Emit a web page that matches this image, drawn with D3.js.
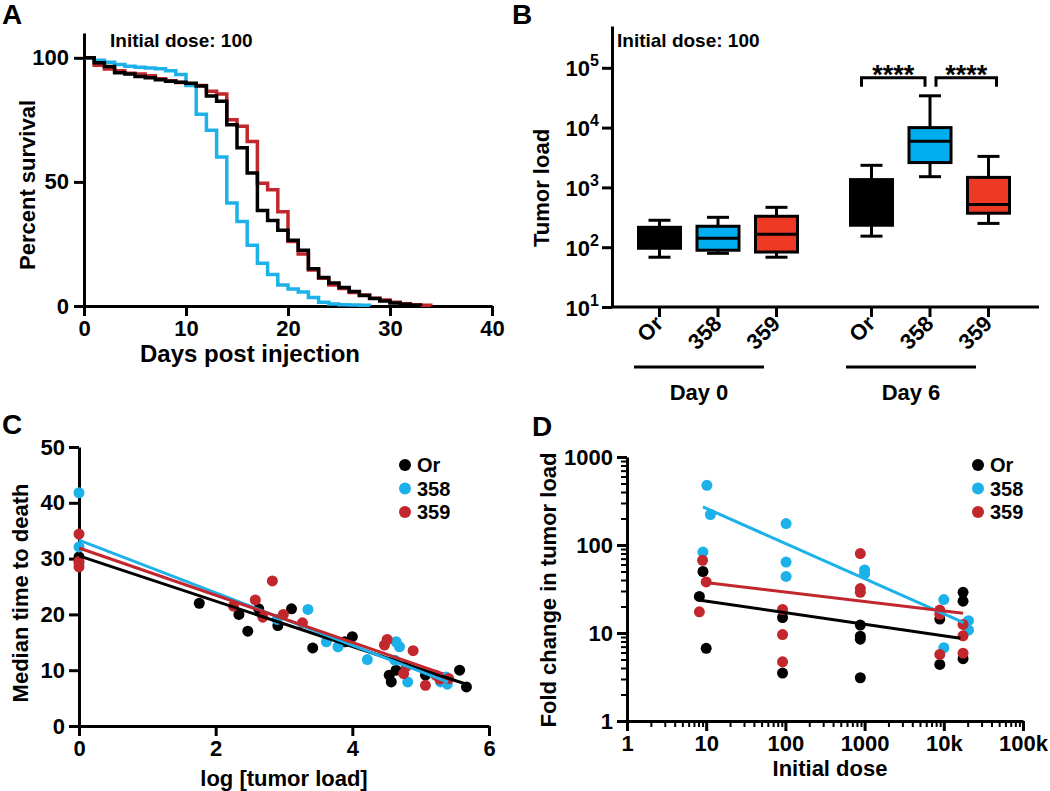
<!DOCTYPE html>
<html><head><meta charset="utf-8">
<script src="https://cdn.jsdelivr.net/npm/d3@7"></script>
<style>
body{margin:0;background:#fff}
svg{display:block;font-family:"Liberation Sans",Arial,Helvetica,sans-serif;font-weight:bold}
</style></head><body>
<svg id="fig" width="1050" height="791"></svg>
<script>
// ---------------- DATA ----------------
const strains = ["Or", "358", "359"];
const lineColors = { "Or": "#000000", "358": "#1db1ea", "359": "#c1272d" };
const boxColors = { "Or": "#000000", "358": "#00aeef", "359": "#ee3a24" };

// Panel A: percent survival at each day (index = day)
const survOr  = [100,98,96.5,94,93.5,92.5,92,91.2,90.6,90.2,89.8,88.6,84.6,82.5,73,63.8,53.6,38.5,34.5,30.5,26.5,22.5,15,11.5,9.3,7.5,5.8,4.2,3.0,2.0,1.2,0.7,0.3,0];
const surv358 = [100,99,98.2,97.3,96.6,96.2,95.9,95.6,94.8,93.3,88.8,77.3,70.8,60,41.5,34,24.5,17.2,12.7,8.5,6.8,5.6,3.4,1.5,0.8,0.5,0.4,0.3,0];
const surv359 = [100,97,95.5,94.8,93.8,93.5,92.8,91.6,90.8,90.1,89.4,88.8,86.5,85.4,75,72.4,66.3,49.5,46.8,38,26,21,14.5,11.2,8.5,7.1,5.4,4.4,3.1,2.4,1.5,0.9,0.5,0.3,0];
const survTicksX = [0, 10, 20, 30, 40];
const survTicksY = [0, 50, 100];

// Panel B: box plots [min, q1, median, q3, max]
const boxGroups = ["Day 0", "Day 6"];
const boxDay0 = { "Or": [68, 96, 150, 215, 282], "358": [79, 89, 141, 224, 316], "359": [68, 83, 165, 329, 464] };
const boxDay6 = { "Or": [153, 233, 600, 1350, 2340], "358": [1510, 2600, 5900, 10000, 34000], "359": [250, 370, 520, 1470, 3300] };
const boxTicksY = [10, 100, 1000, 10000, 100000];
const sigBrackets = [["Or", "358", "****"], ["358", "359", "****"]];
const sigLevel = 68000;

// Panel C: [log tumor load, median time to death]
const cOr  = [[0,30.3],[1.76,22],[2.34,20],[2.47,17],[2.63,21],[2.91,18],[3.11,21],[3.42,14],[3.89,15.1],[4.0,16],[4.54,9.1],[4.57,7.9],[4.64,10],[5.07,9.1],[5.57,10],[5.67,7]];
const c358 = [[0,41.8],[0,32.1],[0,29.2],[2.9,19.1],[3.35,20.9],[3.62,15.1],[3.79,14.2],[4.22,11.9],[4.64,15.1],[4.69,14.2],[4.62,11.8],[4.81,7.9],[5.29,7.9],[5.39,7.5],[5.37,8.8]];
const c359 = [[0,34.4],[0,29.5],[0,28.5],[2.26,21.5],[2.58,22.6],[2.69,19.5],[2.83,26],[2.99,20],[3.27,18.5],[4.47,14.5],[4.51,15.5],[4.75,9.4],[4.79,10.7],[4.89,13.5],[5.07,7.3],[5.22,9.1],[5.28,8.4],[5.41,8.5]];
// linear fits: [intercept, slope, xmax]
const fitC = { "Or": [30.5, -4.06, 5.68], "358": [33.3, -4.71, 5.4], "359": [31.9, -4.23, 5.33] };
const cTicksX = [0, 2, 4, 6];
const cTicksY = [0, 10, 20, 30, 40, 50];

// Panel D: [initial dose, fold change]
const dOr  = [[8.2,26],[9.1,50],[10,6.7],[92,15],[92,3.5],[883,12.3],[883,9.2],[883,8.5],[883,3.1],[8900,14.4],[8900,4.4],[17500,29],[17500,23],[17500,5.1]];
const d358 = [[10.2,477],[11.3,222],[9.1,83],[102,175],[102,64],[102,44],[1000,52],[1000,47],[10000,24],[10000,6.8],[20500,13.8],[20500,10.8]];
const d359 = [[9,67],[8.2,17.4],[10,38],[92,18.5],[92,9.6],[92,4.7],[883,80],[883,32],[883,29],[8900,18.2],[8900,16.3],[8900,5.7],[17500,12.5],[17500,9.3],[17500,5.9]];
// log-log fits: [a, b, xmin, xmax] with log10(y) = a + b*log10(x)
const fitD = { "Or": [1.495, -0.132, 8.4, 16200], "358": [2.817, -0.40, 9.1, 17800], "359": [1.682, -0.108, 8.7, 17500] };
const dTicksX = [1, 10, 100, 1000, 10000, 100000];
const dTickLabelsX = ["1", "10", "100", "1000", "10k", "100k"];
const dTicksY = [1, 10, 100, 1000];

// ---------------- DRAW ----------------
const svg = d3.select("#fig");
const TICK = 22, TITLE = 22;

function styleAxis(g, fs) {
  g.select(".domain").attr("stroke", "#000").attr("stroke-width", 3);
  g.selectAll(".tick line").attr("stroke", "#000").attr("stroke-width", 3);
  g.selectAll(".tick text").attr("font-size", fs || TICK).attr("font-weight", "bold").attr("fill", "#000")
    .attr("font-family", '"Liberation Sans", Arial, sans-serif');
}
function label(x, y, txt, size, anchor, rot) {
  const t = svg.append("text").attr("x", x).attr("y", y).attr("font-size", size)
    .attr("text-anchor", anchor || "middle").attr("fill", "#000").text(txt);
  if (rot) t.attr("transform", `rotate(${rot},${x},${y})`);
  return t;
}

// ===== Panel A =====
{
  const x = d3.scaleLinear().domain([0, 40]).range([84, 492]);
  const y = d3.scaleLinear().domain([0, 110]).range([306, 33]);
  svg.append("g").attr("transform", `translate(0,${y(0)})`)
    .call(d3.axisBottom(x).tickValues(survTicksX).tickSize(10).tickSizeOuter(0).tickPadding(4))
    .call(styleAxis);
  svg.append("g").attr("transform", `translate(${x(0)},0)`)
    .call(d3.axisLeft(y).tickValues(survTicksY).tickSize(10).tickSizeOuter(0).tickPadding(5))
    .call(styleAxis);
  const line = d3.line().x((d, i) => x(i)).y(d => y(d)).curve(d3.curveStepAfter);
  [["359", surv359], ["358", surv358], ["Or", survOr]].forEach(([k, arr]) => {
    svg.append("path").datum(arr).attr("d", line).attr("fill", "none")
      .attr("stroke", lineColors[k]).attr("stroke-width", 3.5);
  });
  label(110, 47, "Initial dose: 100", 19, "start");
  label(250, 362, "Days post injection", 24);
  label(35, 185, "Percent survival", TITLE, "middle", -90);
  label(2, 24, "A", 28, "start");
}

// ===== Panel B =====
{
  const x0 = 612;
  const y = d3.scaleLog().domain([10, 5e5]).range([307, 26]);
  const gx = d3.scalePoint().domain(boxGroups).range([718, 930]);
  const ix = d3.scalePoint().domain(strains).range([-58.5, 58.5]);
  const cx = (g, s) => gx(g) + ix(s);
  const yAx = svg.append("g").attr("transform", `translate(${x0},0)`)
    .call(d3.axisLeft(y).tickValues(boxTicksY).tickFormat(() => "").tickSize(10).tickSizeOuter(0))
    .call(styleAxis);
  yAx.selectAll(".tick").each(function (d) {
    const t = d3.select(this).append("text").attr("x", -13).attr("y", 8).attr("text-anchor", "end")
      .attr("font-size", TICK).attr("fill", "#000");
    t.append("tspan").text("10");
    t.append("tspan").attr("dy", -10).attr("font-size", 16).text(Math.round(Math.log10(d)));
  });
  // x axis
  svg.append("line").attr("x1", x0).attr("x2", 1039).attr("y1", y(10)).attr("y2", y(10))
    .attr("stroke", "#000").attr("stroke-width", 3);
  const dataByGroup = { "Day 0": boxDay0, "Day 6": boxDay6 };
  boxGroups.forEach(g => {
    strains.forEach(s => {
      const c = cx(g, s);
      svg.append("line").attr("x1", c).attr("x2", c).attr("y1", y(10)).attr("y2", y(10) + 10)
        .attr("stroke", "#000").attr("stroke-width", 3);
      label(c + 5, y(10) + 18, s, TICK, "end", -45);
      const [mn, q1, md, q3, mx] = dataByGroup[g][s];
      const bg = svg.append("g");
      bg.append("line").attr("x1", c).attr("x2", c).attr("y1", y(mx)).attr("y2", y(mn)).attr("stroke", "#000").attr("stroke-width", 3);
      [mn, mx].forEach(v => bg.append("line").attr("x1", c - 11).attr("x2", c + 11).attr("y1", y(v)).attr("y2", y(v))
        .attr("stroke", "#000").attr("stroke-width", 3));
      bg.append("rect").attr("x", c - 21).attr("width", 42).attr("y", y(q3)).attr("height", y(q1) - y(q3))
        .attr("fill", boxColors[s]).attr("stroke", "#000").attr("stroke-width", 3);
      bg.append("line").attr("x1", c - 21).attr("x2", c + 21).attr("y1", y(md)).attr("y2", y(md))
        .attr("stroke", "#000").attr("stroke-width", 3);
    });
    const l = gx(g) - 84, r = gx(g) + 46;
    svg.append("line").attr("x1", l).attr("x2", r).attr("y1", 367).attr("y2", 367).attr("stroke", "#000").attr("stroke-width", 3);
    label((l + r) / 2, 400, g, TITLE);
  });
  sigBrackets.forEach(([a, b, txt]) => {
    const xa = cx("Day 6", a) + (a === "358" ? 6 : -10);
    const xb = cx("Day 6", b) + (b === "358" ? -5 : 8);
    const yl = y(sigLevel);
    svg.append("path").attr("d", `M${xa},${yl + 9}V${yl}H${xb}V${yl + 9}`)
      .attr("fill", "none").attr("stroke", "#000").attr("stroke-width", 3);
    label((xa + xb) / 2, yl + 6, txt, 27);
  });
  label(617, 47, "Initial dose: 100", 19, "start");
  label(549, 188, "Tumor load", TITLE, "middle", -90);
  label(512, 24, "B", 28, "start");
}

// ===== Panel C =====
{
  const x = d3.scaleLinear().domain([0, 6]).range([79, 489]);
  const y = d3.scaleLinear().domain([0, 50]).range([726, 447]);
  svg.append("g").attr("transform", `translate(0,${y(0)})`)
    .call(d3.axisBottom(x).tickValues(cTicksX).tickFormat(d3.format("d")).tickSize(10).tickSizeOuter(0).tickPadding(4))
    .call(styleAxis);
  svg.append("g").attr("transform", `translate(${x(0)},0)`)
    .call(d3.axisLeft(y).tickValues(cTicksY).tickFormat(d3.format("d")).tickSize(10).tickSizeOuter(0).tickPadding(4))
    .call(styleAxis);
  const sets = [["Or", cOr], ["358", c358], ["359", c359]];
  sets.forEach(([k, pts]) => {
    svg.append("g").selectAll("circle").data(pts).join("circle")
      .attr("cx", d => x(d[0])).attr("cy", d => y(d[1])).attr("r", 5.5).attr("fill", lineColors[k]);
  });
  sets.forEach(([k]) => {
    const [a, b, xm] = fitC[k];
    svg.append("line").attr("x1", x(0)).attr("y1", y(a)).attr("x2", x(xm)).attr("y2", y(a + b * xm))
      .attr("stroke", lineColors[k]).attr("stroke-width", 3);
  });
  strains.forEach((s, i) => {
    svg.append("circle").attr("cx", 405).attr("cy", 465 + i * 23.5).attr("r", 6).attr("fill", lineColors[s]);
    label(417, 465 + i * 23.5 + 7, s, 20, "start");
  });
  label(x(3), 786, "log [tumor load]", TITLE);
  label(28, 593, "Median time to death", TITLE, "middle", -90);
  label(2, 434, "C", 28, "start");
}

// ===== Panel D =====
{
  const x = d3.scaleLog().domain([1, 1e5]).range([627, 1023]);
  const y = d3.scaleLog().domain([1, 1000]).range([721, 457]);
  const minorX = x.ticks().filter(v => !dTicksX.includes(v));
  const minorY = y.ticks().filter(v => !dTicksY.includes(v));
  svg.append("g").attr("transform", `translate(0,${y(1)})`)
    .call(d3.axisBottom(x).tickValues(minorX).tickFormat("").tickSize(6).tickSizeOuter(0))
    .call(g => { g.select(".domain").remove(); g.selectAll(".tick line").attr("stroke-width", 2); });
  svg.append("g").attr("transform", `translate(${x(1)},0)`)
    .call(d3.axisLeft(y).tickValues(minorY).tickFormat("").tickSize(6).tickSizeOuter(0))
    .call(g => { g.select(".domain").remove(); g.selectAll(".tick line").attr("stroke-width", 2); });
  svg.append("g").attr("transform", `translate(0,${y(1)})`)
    .call(d3.axisBottom(x).tickValues(dTicksX).tickFormat((d, i) => dTickLabelsX[i]).tickSize(10).tickSizeOuter(0).tickPadding(4))
    .call(styleAxis);
  svg.append("g").attr("transform", `translate(${x(1)},0)`)
    .call(d3.axisLeft(y).tickValues(dTicksY).tickFormat(d3.format("d")).tickSize(10).tickSizeOuter(0).tickPadding(4))
    .call(styleAxis);
  const sets = [["Or", dOr], ["358", d358], ["359", d359]];
  sets.forEach(([k, pts]) => {
    svg.append("g").selectAll("circle").data(pts).join("circle")
      .attr("cx", d => x(d[0])).attr("cy", d => y(d[1])).attr("r", 5.5).attr("fill", lineColors[k]);
  });
  sets.forEach(([k]) => {
    const [a, b, x1, x2] = fitD[k];
    const f = v => Math.pow(10, a + b * Math.log10(v));
    svg.append("line").attr("x1", x(x1)).attr("y1", y(f(x1))).attr("x2", x(x2)).attr("y2", y(f(x2)))
      .attr("stroke", lineColors[k]).attr("stroke-width", 3);
  });
  strains.forEach((s, i) => {
    svg.append("circle").attr("cx", 978).attr("cy", 465 + i * 23.5).attr("r", 6).attr("fill", lineColors[s]);
    label(990, 465 + i * 23.5 + 7, s, 20, "start");
  });
  label(830, 776, "Initial dose", TITLE);
  label(556, 590, "Fold change in tumor load", TITLE, "middle", -90);
  label(532, 436, "D", 28, "start");
}
</script>
</body></html>
